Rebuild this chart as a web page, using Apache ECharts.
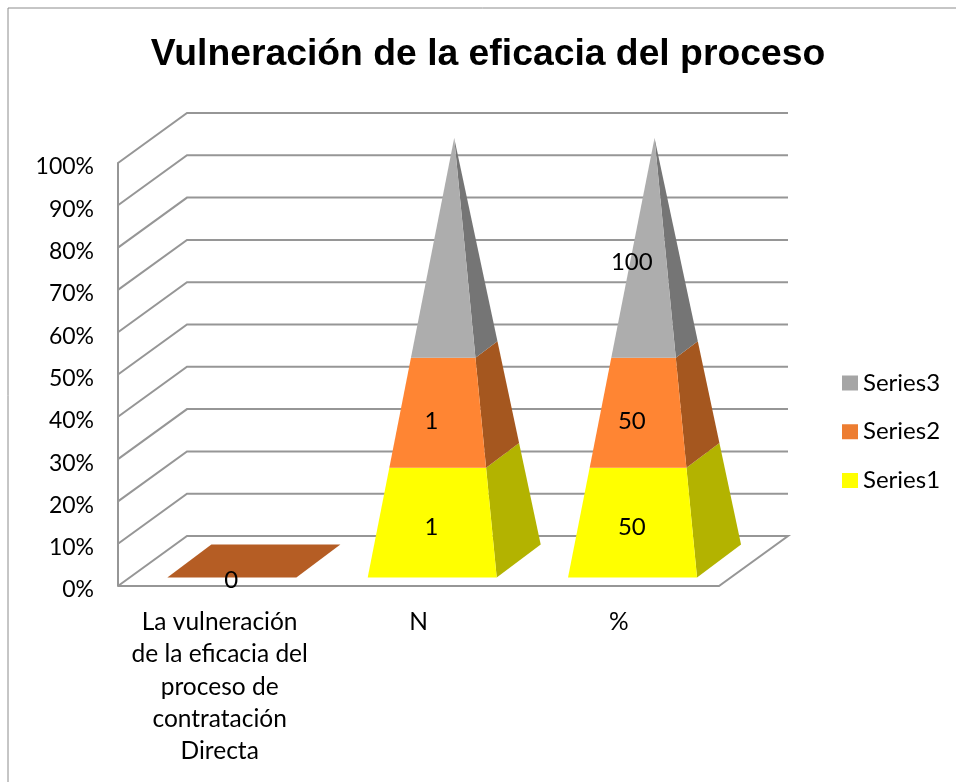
<!DOCTYPE html>
<html>
<head>
<meta charset="utf-8">
<script src="https://cdn.jsdelivr.net/npm/echarts@6/dist/echarts.min.js"></script>
<style>html,body{margin:0;padding:0;background:#fff}#c{width:956px;height:782px}</style>
</head>
<body>
<div id="c"></div>
<script>
var titleText = 'Vulneración de la eficacia del proceso';
var categories = ['La vulneración\nde la eficacia del\nproceso de\ncontratación\nDirecta', 'N', '%'];
var series1 = [null, 1, 50];
var series2 = [0, 1, 50];
var series3 = [null, 2, 100];
var series3Labelled = [false, false, true];
var yTicks = [0, 10, 20, 30, 40, 50, 60, 70, 80, 90, 100];

var FONT = 'Lato, Carlito, sans-serif';
var DEPTH = { x: 69, y: -50 };
var faces = {
  Series1: { legend: '#FFFF00', front: '#FFFF00', side: '#B3B300', flat: '#B3B300' },
  Series2: { legend: '#ED7D31', front: '#FF8533', side: '#A5571F', flat: '#B55D24' },
  Series3: { legend: '#A5A5A5', front: '#ADADAD', side: '#757575', flat: '#757575' }
};

function totalAt(i) { return (series1[i] || 0) + (series2[i] || 0) + (series3[i] || 0); }

function buildRows(values, below, labelled) {
  var rows = [];
  values.forEach(function (v, i) {
    if (v === null) return;
    var total = totalAt(i);
    var low = 0;
    below.forEach(function (b) { low += b[i] || 0; });
    var lowPct = total ? low / total * 100 : 0;
    var highPct = total ? (low + v) / total * 100 : 0;
    rows.push([i, v, lowPct, highPct, labelled ? (labelled[i] ? 1 : 0) : 1]);
  });
  return rows;
}

function pyramidRenderer(key) {
  var c = faces[key];
  return function (params, api) {
    var idx = api.value(0), v = api.value(1), lo = api.value(2), hi = api.value(3), show = api.value(4);
    var bw = api.size([1, 0])[0];
    var halfW = bw * 0.322;
    var base = api.coord([idx, 0]);
    var apexC = api.coord([idx, 100]);
    var cx = base[0] + DEPTH.x / 2 + 1.2, cy = base[1] + DEPTH.y / 2;
    var hd = { x: 22, y: -16.5 };
    var ax = cx, ay = apexC[1] + DEPTH.y / 2;
    var fl = [cx - halfW - hd.x, cy - hd.y];
    var fr = [cx + halfW - hd.x, cy - hd.y];
    var br = [cx + halfW + hd.x, cy + hd.y];
    var bl = [cx - halfW + hd.x, cy + hd.y];
    function at(p, pct) {
      var t = pct / 100;
      return [p[0] + (ax - p[0]) * t, p[1] + (ay - p[1]) * t];
    }
    var children = [];
    if (hi === lo) {
      children.push({ type: 'polygon', shape: { points: [fl, fr, br, bl] }, style: { fill: c.flat } });
    } else {
      children.push({ type: 'polygon', shape: { points: [at(fr, lo), at(br, lo), at(br, hi), at(fr, hi)] }, style: { fill: c.side } });
      children.push({ type: 'polygon', shape: { points: [at(fl, lo), at(fr, lo), at(fr, hi), at(fl, hi)] }, style: { fill: c.front } });
    }
    if (show) {
      var mid = api.coord([idx, (lo + hi) / 2]);
      children.push({
        type: 'text', z2: 50,
        style: { x: mid[0] + 13, y: mid[1] - 6, text: String(v), fill: '#000', font: '24px ' + FONT, align: 'center', verticalAlign: 'middle' }
      });
    }
    return { type: 'group', children: children };
  };
}

function wallRenderer(params, api) {
  var v = api.value(0);
  var p0 = api.coord([0, v]);
  var size = api.size([1, 0])[0];
  var left = p0[0] - size / 2;
  var y = p0[1];
  var right = left + size * categories.length;
  var style = { stroke: '#969696', lineWidth: 2, fill: 'none' };
  var pts = [[left, y], [left + DEPTH.x, y + DEPTH.y], [right + DEPTH.x, y + DEPTH.y]];
  if (v === 0) pts = pts.concat([[right, y], [left, y]]);
  return { type: 'polyline', shape: { points: pts }, style: style, silent: true };
}

var chart = echarts.init(document.getElementById('c'), null, { renderer: 'canvas' });
chart.setOption({
  animation: false,
  backgroundColor: '#fff',
  graphic: [{
    type: 'rect', silent: true, z: -10,
    shape: { x: 8, y: 8, width: 1000, height: 1000 },
    style: { fill: 'none', stroke: '#8c8c8c', lineWidth: 1 }
  }],
  title: {
    text: titleText, left: 483, top: 31, textAlign: 'center',
    textStyle: { fontFamily: '"Liberation Sans", Arial, sans-serif', fontWeight: 'bold', fontSize: 37.3, color: '#000' }
  },
  legend: {
    orient: 'vertical', left: 842, top: 371, padding: 0, itemWidth: 16, itemHeight: 15, itemGap: 24.75,
    icon: 'rect', selectedMode: false,
    data: ['Series3', 'Series2', 'Series1'],
    textStyle: { fontFamily: FONT, fontSize: 24, color: '#000' }
  },
  grid: { left: 118, top: 163, width: 601, height: 423, containLabel: false },
  xAxis: {
    type: 'category',
    data: [{ value: categories[0], textStyle: { padding: [0, 0, 0, 3] } }, categories[1], categories[2]],
    axisLine: { show: false }, axisTick: { show: false }, splitLine: { show: false },
    axisLabel: { interval: 0, margin: 20, color: '#000', fontFamily: FONT, fontSize: 24.5, lineHeight: 32.3, align: 'center' }
  },
  yAxis: {
    type: 'value', min: 0, max: 100, interval: 10,
    axisLine: { show: true, lineStyle: { color: '#969696', width: 2 } },
    axisTick: { show: false }, splitLine: { show: false },
    axisLabel: { margin: 24, color: '#000', fontFamily: FONT, fontSize: 23, verticalAlign: 'top', lineHeight: 8, formatter: '{value}%' }
  },
  series: [
    { name: 'walls', type: 'custom', coordinateSystem: 'cartesian2d', renderItem: wallRenderer, data: yTicks.map(function (t) { return [t]; }), encode: { y: 0 }, silent: true, clip: false, z: 1 },
    { name: 'Series1', type: 'custom', renderItem: pyramidRenderer('Series1'), data: buildRows(series1, []), encode: { x: 0, y: 3 }, itemStyle: { color: faces.Series1.legend }, clip: false, z: 2 },
    { name: 'Series2', type: 'custom', renderItem: pyramidRenderer('Series2'), data: buildRows(series2, [series1]), encode: { x: 0, y: 3 }, itemStyle: { color: faces.Series2.legend }, clip: false, z: 3 },
    { name: 'Series3', type: 'custom', renderItem: pyramidRenderer('Series3'), data: buildRows(series3, [series1, series2], series3Labelled), encode: { x: 0, y: 3 }, itemStyle: { color: faces.Series3.legend }, clip: false, z: 4 }
  ]
});
</script>
</body>
</html>
